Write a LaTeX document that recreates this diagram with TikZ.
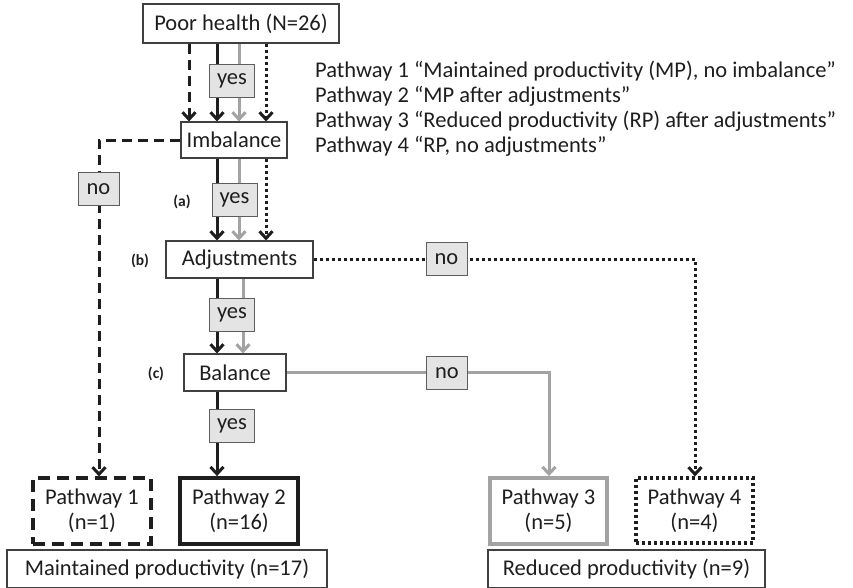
\documentclass[tikz,border=0pt]{standalone}
\usepackage{fontspec}
\setmainfont{Carlito}
\usetikzlibrary{arrows.meta,backgrounds}
\definecolor{inkdark}{HTML}{1E1E1E}
\definecolor{inkgray}{HTML}{A3A3A3}
\definecolor{edgegray}{HTML}{404040}
\definecolor{tagfill}{HTML}{E4E4E4}
\tikzset{
  box/.style={draw=edgegray, fill=white, line width=1.1pt, inner sep=0pt,
    font=\fontsize{22.5}{25}\selectfont, align=center, text=inkdark},
  tag/.style={draw=edgegray!85, fill=tagfill, line width=1pt, inner sep=0pt,
    minimum width=45pt, minimum height=33pt, font=\fontsize{22.5}{25}\selectfont, text=inkdark},
  steplbl/.style={font=\bfseries\fontsize{15.5}{17}\selectfont, text=inkdark},
  legend/.style={anchor=west, inner sep=0pt, font=\fontsize{22.5}{25}\selectfont, text=inkdark},
  tip/.style={-{Straight Barb[length=7pt,width=13pt]}},
  pdash/.style={inkdark, line width=3pt, dash pattern=on 10pt off 6pt},
  psolid/.style={inkdark, line width=3pt},
  pgray/.style={inkgray, line width=3pt},
  pdot/.style={inkdark, line width=3pt, dash pattern=on 3pt off 3pt},
}
\begin{document}
\begin{tikzpicture}[x=1pt, y=-1pt]
\useasboundingbox (0,0) rectangle (853,587);
\clip (0,0) rectangle (853,587);

% decision chain
\node[box, minimum width=196pt, minimum height=39pt] (poor) at (241,23.5) {Poor health (N=26)};
\node[box, minimum width=106pt, minimum height=36pt] (imb) at (234,140) {Imbalance};
\node[box, minimum width=147pt, minimum height=37pt] (adj) at (239.5,259.5) {Adjustments};
\node[box, minimum width=102pt, minimum height=37pt] (bal) at (235,372.5) {Balance};

% outcomes
\node[box, draw=inkdark, line width=3.2pt, dash pattern=on 12pt off 7pt,
  minimum width=118pt, minimum height=66pt] (p1) at (92,511) {Pathway 1\\(n=1)};
\node[box, draw=inkdark, line width=3.8pt,
  minimum width=118pt, minimum height=66pt] (p2) at (239,511) {Pathway 2\\(n=16)};
\node[box, draw=inkgray, line width=3.8pt,
  minimum width=117pt, minimum height=66pt] (p3) at (548.5,511) {Pathway 3\\(n=5)};
\node[box, draw=inkdark, line width=3.2pt, dash pattern=on 3pt off 3pt,
  minimum width=117pt, minimum height=65pt] (p4) at (694.5,510.5) {Pathway 4\\(n=4)};
\node[box, minimum width=320pt, minimum height=38pt] (mp) at (167,569) {Maintained productivity (n=17)};
\node[box, minimum width=277pt, minimum height=38pt] (rp) at (626.5,569) {Reduced productivity (n=9)};

% yes / no tags
\node[tag] (y1) at (232,81) {yes};
\node[tag] (y2) at (234.5,199.5) {yes};
\node[tag] (y3) at (232,315) {yes};
\node[tag] (y4) at (232,426) {yes};
\node[tag, minimum width=41pt] (n1) at (98.5,189) {no};
\node[tag, minimum width=41pt] (n2) at (446.5,259) {no};
\node[tag, minimum width=41pt] (n3) at (447,373) {no};

% step labels
\node[steplbl] (la) at (182,202) {(a)};
\node[steplbl] (lb) at (140,261) {(b)};
\node[steplbl] (lc) at (156,374) {(c)};

% legend
\node[legend] (l1) at (315,71) {Pathway 1 “Maintained productivity (MP), no imbalance”};
\node[legend] (l2) at (315,96) {Pathway 2 “MP after adjustments”};
\node[legend] (l3) at (315,121) {Pathway 3 “Reduced productivity (RP) after adjustments”};
\node[legend] (l4) at (315,146) {Pathway 4 “RP, no adjustments”};

% lane positions of the four pathways
\coordinate (cA) at (189,0);
\coordinate (cB) at (217,0);
\coordinate (cC) at (239,0);
\coordinate (cC2) at (243,0);
\coordinate (cD) at (266,0);
\coordinate (cE) at (99,0);
\coordinate (cF) at (549,0);
\coordinate (cG) at (695,0);

\begin{scope}[on background layer]
  % pathway 1: no imbalance
  \draw[pdash, tip] (poor.south -| cA) -- (imb.north -| cA);
  \draw[pdash, tip] (imb.west) -- (imb.west -| cE) -- (p1.north -| cE);
  % pathway 2: adjustments restore balance
  \draw[psolid, tip] (poor.south -| cB) -- (imb.north -| cB);
  \draw[psolid, tip] (imb.south -| cB) -- (adj.north -| cB);
  \draw[psolid, tip] (adj.south -| cB) -- (bal.north -| cB);
  \draw[psolid, tip] (bal.south -| cB) -- (p2.north -| cB);
  % pathway 3: adjustments without balance
  \draw[pgray, tip] (poor.south -| cC) -- (imb.north -| cC);
  \draw[pgray, tip] (imb.south -| cC) -- (adj.north -| cC);
  \draw[pgray, tip] (adj.south -| cC2) -- (bal.north -| cC2);
  \draw[pgray, tip] (bal.east) -- (bal.east -| cF) -- (p3.north -| cF);
  % pathway 4: no adjustments
  \draw[pdot, tip] (poor.south -| cD) -- (imb.north -| cD);
  \draw[pdot, tip] (imb.south -| cD) -- (adj.north -| cD);
  \draw[pdot, tip] (adj.east) -- (adj.east -| cG) -- (p4.north -| cG);
\end{scope}
\end{tikzpicture}
\end{document}
